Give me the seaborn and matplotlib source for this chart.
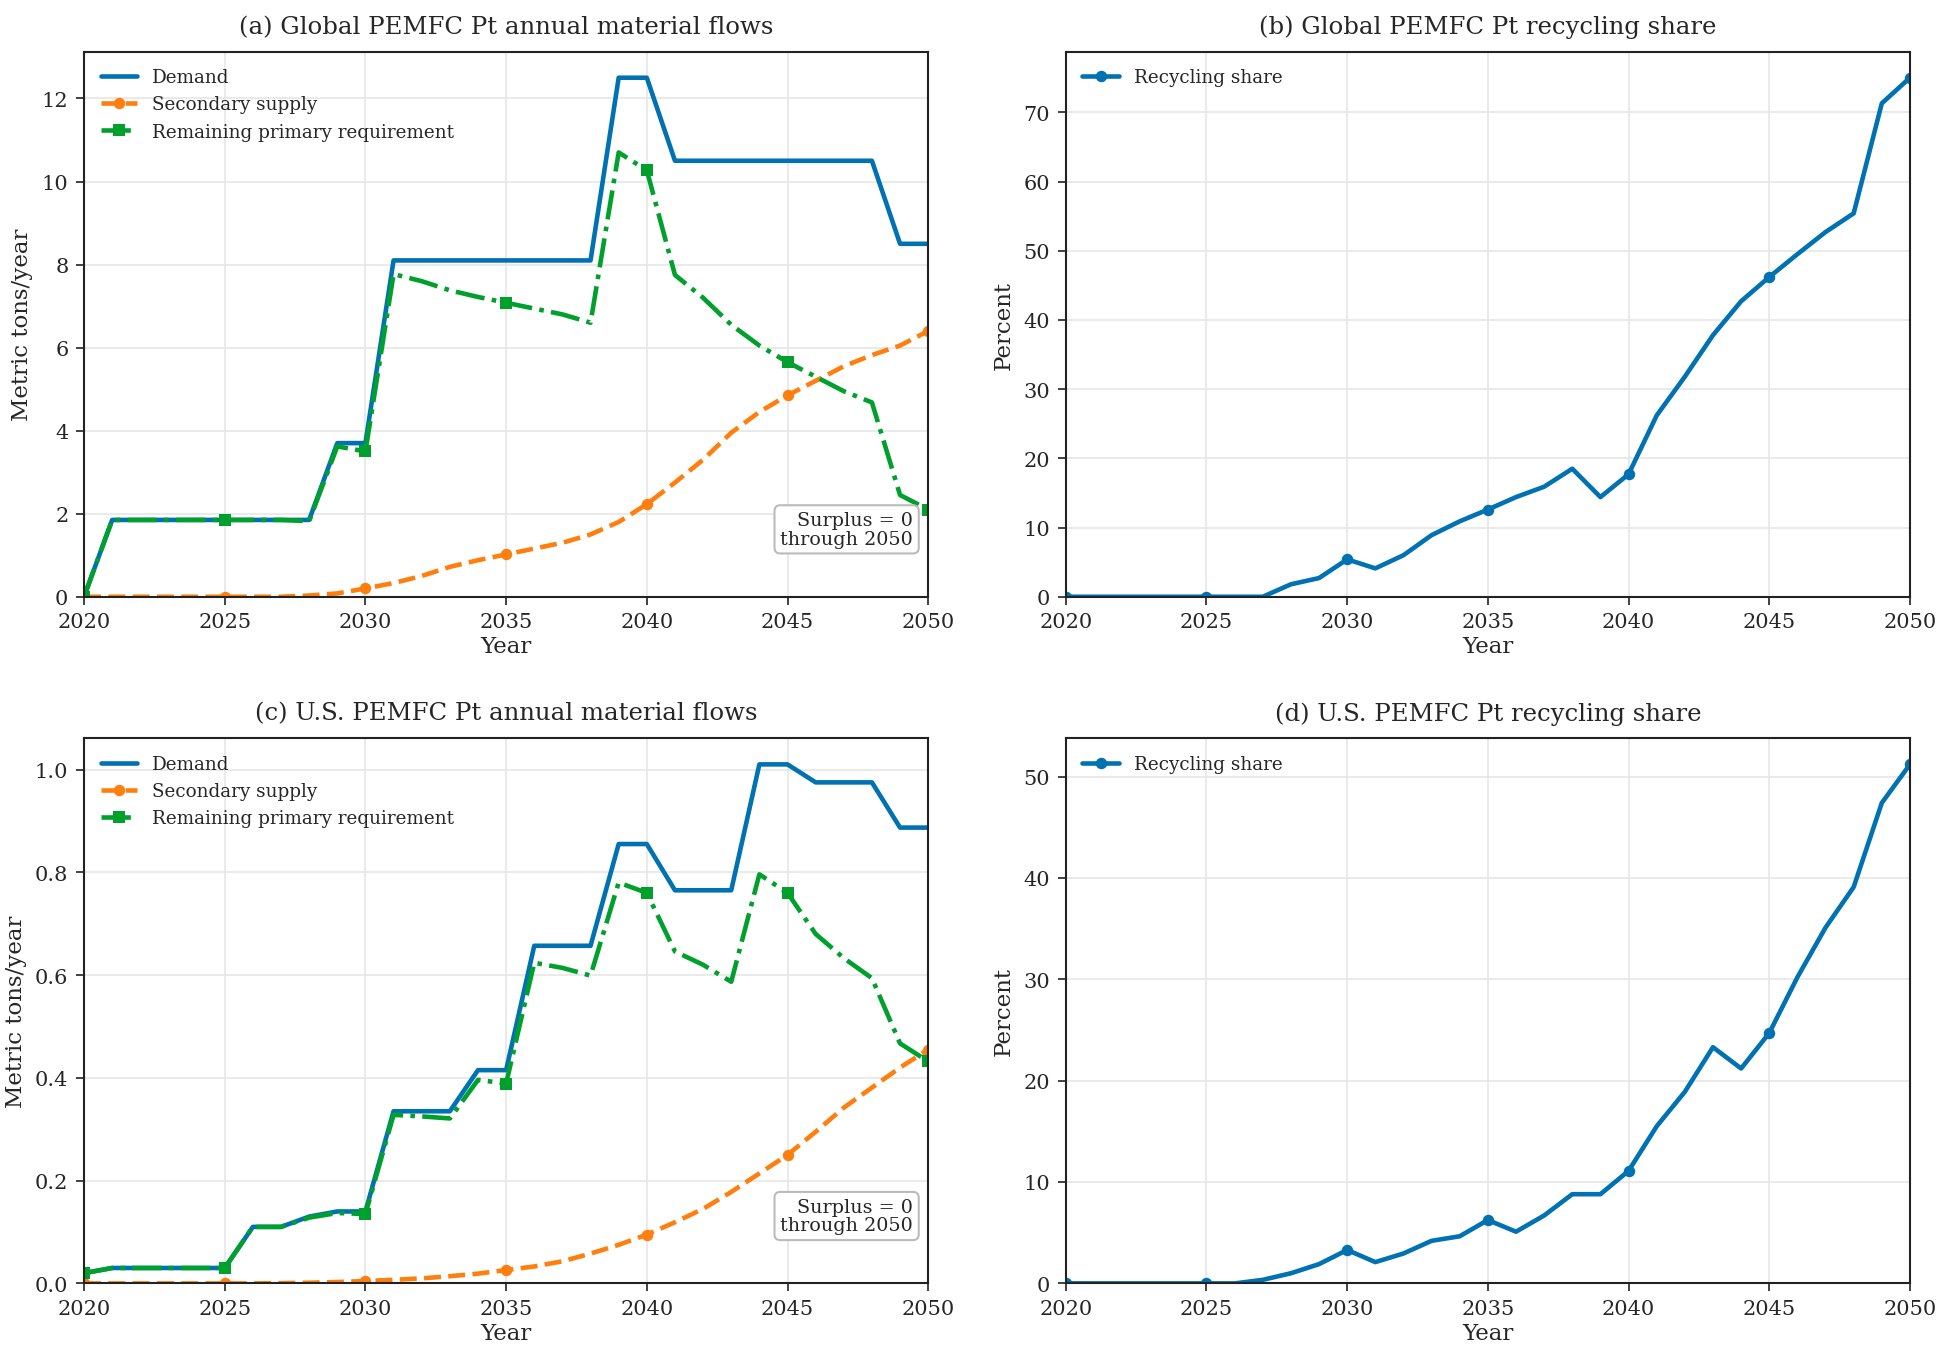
import numpy as np
import pandas as pd
import matplotlib
matplotlib.use("Agg")
import matplotlib.pyplot as plt
import seaborn as sns

years = list(range(2020, 2051))

# (a) Global flows (metric tons/year)
glob_demand = [0.0, 1.85, 1.85, 1.85, 1.85, 1.85, 1.85, 1.85, 1.85, 3.7, 3.7,
               8.1, 8.1, 8.1, 8.1, 8.1, 8.1, 8.1, 8.1, 12.5, 12.5,
               10.5, 10.5, 10.5, 10.5, 10.5, 10.5, 10.5, 10.5, 8.5, 8.5]
glob_secondary = [0.0, 0.0, 0.0, 0.0, 0.0, 0.0, 0.0, 0.0, 0.03, 0.08, 0.2,
                  0.33, 0.5, 0.72, 0.88, 1.02, 1.16, 1.3, 1.5, 1.8, 2.23,
                  2.75, 3.3, 3.95, 4.45, 4.85, 5.2, 5.55, 5.82, 6.05, 6.4]
glob_primary = [0.0, 1.85, 1.85, 1.85, 1.85, 1.85, 1.85, 1.85, 1.82, 3.62, 3.5,
                7.77, 7.6, 7.38, 7.22, 7.08, 6.94, 6.8, 6.6, 10.7, 10.27,
                7.75, 7.2, 6.55, 6.05, 5.65, 5.3, 4.95, 4.68, 2.45, 2.1]
glob_share = [0.0, 0.0, 0.0, 0.0, 0.0, 0.0, 0.0, 0.0, 1.8, 2.7, 5.4,
              4.1, 6.0, 8.9, 10.9, 12.6, 14.4, 15.9, 18.5, 14.4, 17.7,
              26.2, 31.8, 37.8, 42.7, 46.2, 49.5, 52.7, 55.4, 71.3, 75.0]

# (c) U.S. flows (metric tons/year)
us_demand = [0.02, 0.03, 0.03, 0.03, 0.03, 0.03, 0.11, 0.11, 0.13, 0.14, 0.14,
             0.335, 0.335, 0.335, 0.415, 0.415, 0.657, 0.657, 0.657, 0.855, 0.855,
             0.765, 0.765, 0.765, 1.01, 1.01, 0.975, 0.975, 0.975, 0.887, 0.887]
us_secondary = [0.0, 0.0, 0.0, 0.0, 0.0, 0.0, 0.0, 0.0005, 0.0013, 0.0027, 0.0046,
                0.007, 0.0098, 0.014, 0.019, 0.026, 0.033, 0.043, 0.058, 0.075, 0.095,
                0.119, 0.145, 0.178, 0.214, 0.25, 0.295, 0.342, 0.381, 0.42, 0.455]
us_primary = [0.02, 0.03, 0.03, 0.03, 0.03, 0.03, 0.11, 0.11, 0.128, 0.137, 0.135,
              0.328, 0.325, 0.321, 0.396, 0.389, 0.624, 0.614, 0.599, 0.78, 0.76,
              0.646, 0.62, 0.587, 0.796, 0.76, 0.68, 0.633, 0.594, 0.467, 0.432]
us_share = [0.0, 0.0, 0.0, 0.0, 0.0, 0.0, 0.0, 0.35, 1.0, 1.9, 3.3,
            2.1, 2.95, 4.2, 4.65, 6.25, 5.1, 6.7, 8.8, 8.8, 11.1,
            15.5, 18.9, 23.3, 21.2, 24.7, 30.2, 35.1, 39.1, 47.4, 51.2]

titles = ["(a) Global PEMFC Pt annual material flows",
          "(b) Global PEMFC Pt recycling share",
          "(c) U.S. PEMFC Pt annual material flows",
          "(d) U.S. PEMFC Pt recycling share"]

C_BLUE = "#0072B2"
C_ORANGE = "#FF7F0E"
C_GREEN = "#00A02C"

sns.set_style("ticks")
plt.rcParams['font.family'] = ['DejaVu Serif']
plt.rcParams['axes.edgecolor'] = '#222222'
plt.rcParams['axes.linewidth'] = 1.0

fig, axes = plt.subplots(2, 2, figsize=(12.94, 9.013), dpi=150)
fig.subplots_adjust(left=0.0433, right=0.984, top=0.961, bottom=0.050,
                    wspace=0.163, hspace=0.26)

LW = 2.2
MS = 5.5

def flows(ax, demand, secondary, primary, title):
    sns.lineplot(x=years, y=demand, ax=ax, color=C_BLUE, lw=LW, label="Demand")
    sns.lineplot(x=years, y=secondary, ax=ax, color=C_ORANGE, lw=LW, linestyle="--",
                 marker="o", markersize=MS, markevery=5, markeredgewidth=0,
                 label="Secondary supply")
    sns.lineplot(x=years, y=primary, ax=ax, color=C_GREEN, lw=LW, linestyle="-.",
                 marker="s", markersize=MS, markevery=5, markeredgewidth=0,
                 label="Remaining primary requirement")
    ax.set_ylabel("Metric tons/year", fontsize=11)
    ax.text(0.982, 0.09, "Surplus = 0\nthrough 2050", transform=ax.transAxes,
            ha="right", va="bottom", multialignment="right", fontsize=9.2,
            linespacing=1.05,
            bbox=dict(boxstyle="round,pad=0.3", fc="white", ec="#bbbbbb", lw=1.0))
    ax.set_title(title, fontsize=11.7, pad=9)

def share(ax, vals, title):
    sns.lineplot(x=years, y=vals, ax=ax, color=C_BLUE, lw=LW, marker="o",
                 markersize=MS, markevery=5, markeredgewidth=0,
                 label="Recycling share")
    ax.set_ylabel("Percent", fontsize=11)
    ax.set_title(title, fontsize=11.7, pad=9)

flows(axes[0, 0], glob_demand, glob_secondary, glob_primary, titles[0])
share(axes[0, 1], glob_share, titles[1])
flows(axes[1, 0], us_demand, us_secondary, us_primary, titles[2])
share(axes[1, 1], us_share, titles[3])

for ax in axes.flat:
    ax.set_xlim(2020, 2050)
    ax.set_xticks(range(2020, 2051, 5))
    ax.set_ylim(bottom=0)
    ax.set_xlabel("Year", fontsize=11, labelpad=2)
    ax.grid(True, color="#e6e6e6", lw=0.8)
    ax.set_axisbelow(True)
    ax.tick_params(labelsize=10, length=4, color="#222222")
    ax.legend(loc="upper left", frameon=False, fontsize=8.8)

fig.savefig("out.png", dpi=150)
